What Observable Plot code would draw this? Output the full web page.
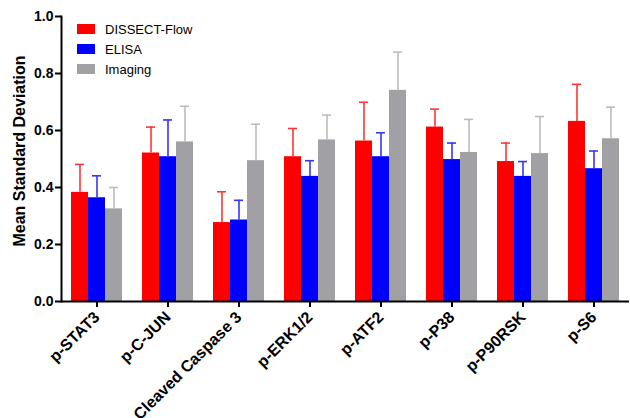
<!DOCTYPE html>
<html><head><meta charset="utf-8">
<script src="https://cdn.jsdelivr.net/npm/d3@7"></script>
<script src="https://cdn.jsdelivr.net/npm/@observablehq/plot@0.6"></script>
<style>
body{margin:0;background:#fff;font-family:"Liberation Sans",Arial,sans-serif}
#wrap{position:relative;width:630px;height:418px;overflow:hidden}
#legend{position:absolute;left:77px;top:19px;font-size:13px;color:#000}
.item{display:flex;align-items:center;height:20px}
.sw{width:18px;height:10px;margin-right:10px}
</style></head><body><div id="wrap"><div id="legend"></div></div>
<script>
const categories = ["p-STAT3","p-C-JUN","Cleaved Caspase 3","p-ERK1/2","p-ATF2","p-P38","p-P90RSK","p-S6"];
const series = ["DISSECT-Flow","ELISA","Imaging"];
const flow       = [0.383,0.521,0.277,0.508,0.563,0.612,0.491,0.632];
const flowErr    = [0.481,0.612,0.385,0.607,0.699,0.675,0.556,0.762];
const elisa      = [0.364,0.508,0.286,0.439,0.508,0.498,0.439,0.466];
const elisaErr   = [0.441,0.637,0.355,0.494,0.592,0.556,0.491,0.528];
const imaging    = [0.325,0.560,0.494,0.567,0.741,0.523,0.519,0.571];
const imagingErr = [0.400,0.685,0.622,0.654,0.875,0.639,0.649,0.682];
const yTicks = [0,0.2,0.4,0.6,0.8,1.0];
const barColors = ["#ff0000","#0000ff","#a1a1a5"];
const errColors = ["#ff3535","#3535ff","#bcbcbc"];

const values = [flow, elisa, imaging];
const errs = [flowErr, elisaErr, imagingErr];
const rows = [];
series.forEach((s, si) => categories.forEach((c, ci) => rows.push({cat: c, series: s, value: values[si][ci], err: errs[si][ci]})));

const errMarks = [];
series.forEach((s, si) => {
  const sub = rows.filter(d => d.series === s);
  errMarks.push(Plot.ruleX(sub, {fx: "cat", x: "series", y1: "value", y2: "err", stroke: errColors[si], strokeWidth: 1.6}));
  errMarks.push(Plot.tickY(sub, {fx: "cat", x: "series", y: "err", stroke: errColors[si], strokeWidth: 1.6, insetLeft: 4, insetRight: 4}));
});

const chart = Plot.plot({
  width: 630, height: 418,
  marginLeft: 60, marginRight: 0, marginTop: 16, marginBottom: 117,
  style: {fontFamily: "Liberation Sans, Arial, sans-serif", background: "#fff", color: "#000"},
  fx: {domain: categories, paddingInner: 0, paddingOuter: 0, label: null},
  x: {domain: series, paddingInner: 0, paddingOuter: 0.5, axis: null},
  y: {domain: [0, 1]},
  color: {domain: series, range: barColors},
  marks: [
    Plot.barY(rows, {fx: "cat", x: "series", y: "value", fill: "series"}),
    ...errMarks,
    Plot.ruleY([0], {stroke: "#000", strokeWidth: 2}),
    Plot.frame({anchor: "left", facet: "super", stroke: "#000", strokeWidth: 2}),
    Plot.axisY({ticks: yTicks, tickFormat: d => d.toFixed(1), tickSize: 6, tickPadding: 2, fontSize: 14, fontWeight: "bold", strokeWidth: 2, label: null}),
    Plot.axisFx({anchor: "bottom", tickSize: 6, tickPadding: 7, tickRotate: -45, fontSize: 16, fontWeight: "bold", strokeWidth: 2, label: null})
  ]
});
document.getElementById("wrap").prepend(chart);

const svg = d3.select(chart);
svg.append("text")
  .attr("transform", "translate(25,151) rotate(-90)")
  .attr("text-anchor", "middle")
  .attr("font-size", 16).attr("font-weight", "bold")
  .attr("font-family", "Liberation Sans, Arial, sans-serif")
  .text("Mean Standard Deviation");

const legend = document.getElementById("legend");
series.forEach((s, i) => {
  const item = document.createElement("div"); item.className = "item";
  const sw = document.createElement("div"); sw.className = "sw"; sw.style.background = barColors[i];
  const t = document.createElement("span"); t.textContent = s;
  item.append(sw, t); legend.append(item);
});
</script></body></html>
